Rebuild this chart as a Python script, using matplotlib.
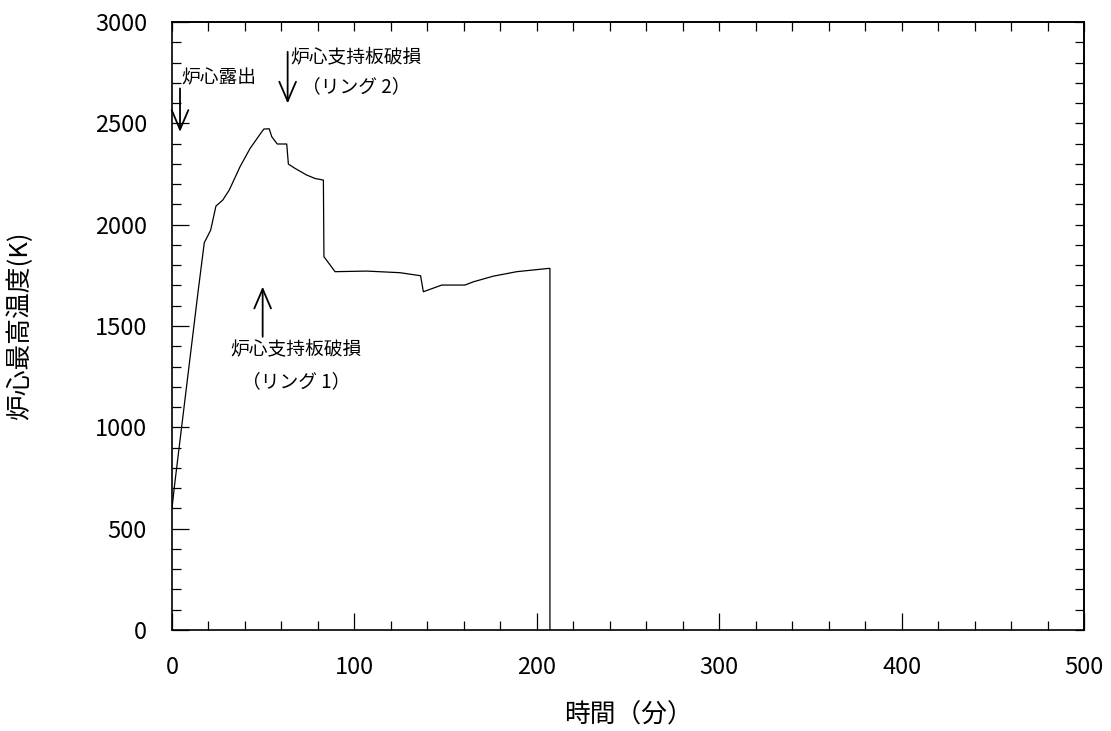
import numpy as np
import matplotlib
matplotlib.use('Agg')
import matplotlib.pyplot as plt

plt.rcParams['font.family'] = ['Noto Sans CJK JP', 'DejaVu Sans']

# time (min) and peak core temperature (K)
time_min = [0, 1.3, 14.4, 17.7, 21.2, 24.1, 27.8, 31.4, 37.3, 42.8, 49.2, 50.4,
            53.3, 54.7, 57.7, 62.9, 63.8, 67.4, 73.8, 78.4, 83.0, 83.3, 89.4,
            106.7, 125.0, 136.3, 137.8, 147.9, 160.6, 165.2, 176.2, 189.0,
            206.3, 207.2, 207.2]
temp_k = [600, 707, 1677, 1911, 1973, 2092, 2121, 2171, 2286, 2376, 2458, 2472,
          2473, 2434, 2398, 2398, 2299, 2278, 2245, 2228, 2220, 1842, 1768,
          1771, 1763, 1748, 1669, 1702, 1702, 1718, 1746, 1768,
          1784, 1784, 0]

x_label = '時間（分）'
y_label = '炉心最高温度(K)'

# annotations: (text, x, y)
labels = [('炉心露出', 25.9, 2722),
          ('炉心支持板破損', 100.9, 2822),
          ('（リング 2）', 100.9, 2680),
          ('炉心支持板破損', 67.9, 1381),
          ('（リング 1）', 67.9, 1225)]
# arrows: (x, y_tail, y_tip)
arrows = [(4.4, 2672, 2458),
          (63.4, 2853, 2598),
          (49.7, 1447, 1694)]

fig = plt.figure(figsize=(11.11, 7.31), dpi=100)
ax = fig.add_axes([172/1111, 1-630/731, 912/1111, 608/731])

ax.plot(time_min, temp_k, color='k', lw=0.9)

for txt, x, y in labels:
    ax.text(x, y, txt, ha='center', va='center', fontsize=13.5)
for x, y0, y1 in arrows:
    ax.annotate('', xy=(x, y1), xytext=(x, y0),
                arrowprops=dict(arrowstyle='->,head_length=0.7,head_width=0.3',
                                lw=1.3, color='k', shrinkA=0, shrinkB=0,
                                mutation_scale=20))

ax.set_xlim(0, 500)
ax.set_ylim(0, 3000)
ax.set_xticks(np.arange(0, 501, 100))
ax.set_xticks(np.arange(0, 501, 20), minor=True)
ax.set_yticks(np.arange(0, 3001, 500))
ax.set_yticks(np.arange(0, 3001, 100), minor=True)
ax.tick_params(which='major', direction='in', length=12, width=0.9,
               labelsize=17, pad=18)
ax.tick_params(which='minor', direction='in', length=6.5, width=0.9)
ax.tick_params(axis='x', which='major', pad=19)

top = ax.secondary_xaxis('top')
top.set_xticks(np.arange(0, 501, 20))
top.set_xticklabels([])
top.tick_params(direction='in', length=6.5, width=0.9)
right = ax.secondary_yaxis('right')
right.set_yticks(np.arange(0, 3001, 100))
right.set_yticklabels([])
right.tick_params(direction='in', length=6.5, width=0.9)

for a in (ax, top, right):
    for s in a.spines.values():
        s.set_linewidth(1.2)

ax.set_xlabel(x_label, fontsize=18.5, labelpad=17)
ax.set_ylabel(y_label, fontsize=18.5, labelpad=44)

fig.savefig('out.png', dpi=100)
